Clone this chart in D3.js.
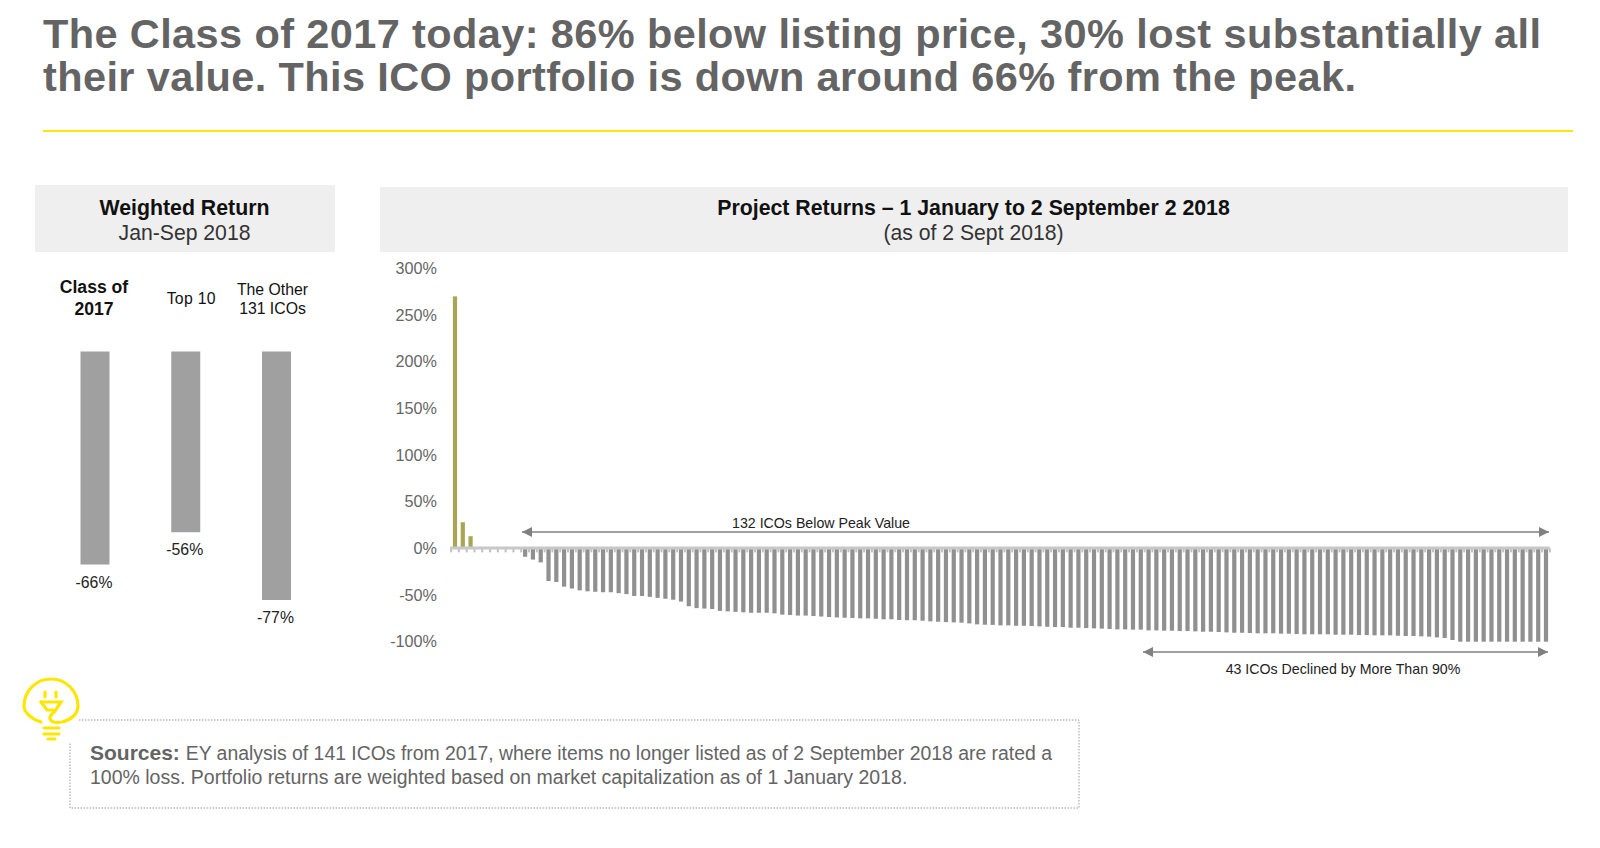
<!DOCTYPE html>
<html>
<head>
<meta charset="utf-8">
<script src="https://cdn.jsdelivr.net/npm/d3@7"></script>
<style>
  body { margin: 0; background: #fff; }
  text { font-family: "Liberation Sans", Arial, sans-serif; }
</style>
</head>
<body>
<div id="chart"></div>
<script>
// left panel
const weightedNames = ['Class of 2017', 'Top 10', 'The Other 131 ICOs'];
const weightedValues = [-66, -56, -77];

// right panel, one value per ICO, sorted
const positiveReturns = [270, 28, 13];
const flatReturns = [0, 0, 0, 0, 0, 0];
const belowPeakReturns = [
  -9, -12, -15, -35, -36, -41, -43, -45, -46, -46.5, -47, -47, -48, -49, -51, -51,
  -52, -53, -54, -55, -57, -62, -64, -64.5, -65, -67, -67.5, -68, -68.5, -69, -69, -69,
  -69.6, -71, -71.4, -72, -72, -72.5, -73, -73.6, -74, -74.3, -74.6, -75, -75, -75.4, -76, -76, -76.8,
  -77, -77, -77.5, -78.2, -78.6, -79, -79.3, -79.6, -80.4, -81.4, -81.8, -82, -82.5, -82.5, -82.9, -82.9,
  -83.2, -83.6, -84, -84.3, -84.3, -85, -85, -85.4, -85.7, -86, -86.4, -86.8, -86.8, -87.1, -87.1, -87.9, -87.9, -88.2,
  -88.2, -88.6, -88.6, -88.9, -89.3, -89.3, -89.6, -90, -90.4, -90.4, -90.7, -91, -91, -91, -91.4, -91.4,
  -91.8, -92.1, -92.1, -92.1, -92.1, -92.5, -92.5, -92.5, -92.9, -92.9, -93.2, -93.2, -93.2, -93.6, -93.9, -93.9,
  -94.3, -94.6, -95.4, -96, -98.2,
  -100, -100, -100, -100, -100, -100, -100, -100, -100, -100, -100, -100
];
const projectReturns = [...positiveReturns, ...flatReturns, ...belowPeakReturns];
const yTicks = [-100, -50, 0, 50, 100, 150, 200, 250, 300];

const width = 1600, height = 848;
const yellow = '#ffe600';
const svg = d3.select('#chart').append('svg')
  .attr('width', width)
  .attr('height', height)
  .style('display', 'block');

// title
svg.append('g').selectAll('text')
  .data([
    ['The Class of 2017 today: 86% below listing price, 30% lost substantially all', 48],
    ['their value. This ICO portfolio is down around 66% from the peak.', 91]
  ])
  .join('text')
  .attr('x', 43)
  .attr('y', d => d[1])
  .attr('font-size', 41.5)
  .attr('font-weight', 'bold')
  .attr('fill', '#646464')
  .attr('textLength', (d, i) => i === 0 ? 1498 : 1313)
  .attr('lengthAdjust', 'spacing')
  .text(d => d[0]);

svg.append('line')
  .attr('x1', 43).attr('x2', 1573)
  .attr('y1', 131).attr('y2', 131)
  .attr('stroke', yellow)
  .attr('stroke-width', 2);

// header boxes
function header(x0, x1, y0, y1, bold, normal, textX, boldY, normalY) {
  svg.append('rect')
    .attr('x', x0).attr('y', y0)
    .attr('width', x1 - x0).attr('height', y1 - y0)
    .attr('fill', '#efefef');
  svg.append('text')
    .attr('x', textX).attr('y', boldY)
    .attr('text-anchor', 'middle')
    .attr('font-size', 21.3)
    .attr('font-weight', 'bold')
    .attr('fill', '#111')
    .text(bold);
  svg.append('text')
    .attr('x', textX).attr('y', normalY)
    .attr('text-anchor', 'middle')
    .attr('font-size', 21.2)
    .attr('fill', '#333')
    .text(normal);
}
header(35, 335, 185, 252, 'Weighted Return', 'Jan-Sep 2018', 184.5, 215, 240);
header(380, 1568, 187, 252, 'Project Returns – 1 January to 2 September 2 2018', '(as of 2 Sept 2018)', 973.5, 215, 240);

// weighted return bars
const wx = d3.scalePoint()
  .domain(weightedNames)
  .range([95, 276.5]);
const wy = d3.scaleLinear()
  .domain([0, -77])
  .range([351.5, 600]);

svg.append('g').selectAll('rect')
  .data(weightedValues)
  .join('rect')
  .attr('x', (d, i) => wx(weightedNames[i]) - 14.5)
  .attr('y', wy(0))
  .attr('width', 29)
  .attr('height', d => wy(d) - wy(0))
  .attr('fill', '#a0a0a0');

svg.append('g').selectAll('text')
  .data(weightedValues)
  .join('text')
  .attr('x', (d, i) => wx(weightedNames[i]) - 1)
  .attr('y', d => wy(d) + 23)
  .attr('text-anchor', 'middle')
  .attr('font-size', 15.8)
  .attr('fill', '#222')
  .text(d => d + '%');

const nameLines = [['Class of', '2017'], ['Top 10'], ['The Other', '131 ICOs']];
const nameOffsets = [-1, 5.5, -4];
nameLines.forEach((lines, i) => {
  svg.append('g').selectAll('text')
    .data(lines)
    .join('text')
    .attr('x', wx(weightedNames[i]) + nameOffsets[i])
    .attr('y', (d, j) => (lines.length === 1 ? 304 : (i === 0 ? 293 : 295)) + j * (i === 0 ? 22 : 19))
    .attr('text-anchor', 'middle')
    .attr('font-size', i === 0 ? 17.6 : 15.8)
    .attr('font-weight', i === 0 ? 'bold' : 'normal')
    .attr('letter-spacing', i === 1 ? 0.3 : 0)
    .attr('fill', '#111')
    .text(d => d);
});

// project returns
const x = d3.scaleBand()
  .domain(d3.range(projectReturns.length))
  .range([451.1, 1549.9])
  .paddingInner(0.46)
  .paddingOuter(0.23);
const y = d3.scaleLinear()
  .domain([-100, 300])
  .range([641.7, 268.4]);

const yAxis = d3.axisLeft(y)
  .tickValues(yTicks)
  .tickSize(0)
  .tickPadding(0)
  .tickFormat(d => d + '%');
const yG = svg.append('g')
  .attr('transform', 'translate(437,0)')
  .call(yAxis);
yG.select('.domain').remove();
yG.selectAll('text')
  .attr('font-size', 16.2)
  .attr('fill', '#666')
  .style('font-family', '"Liberation Sans", Arial, sans-serif');

svg.append('g').selectAll('rect')
  .data(projectReturns)
  .join('rect')
  .attr('x', (d, i) => x(i))
  .attr('y', d => y(Math.max(d, 0)))
  .attr('width', x.bandwidth())
  .attr('height', d => Math.abs(y(d) - y(0)))
  .attr('fill', d => d > 0 ? '#a8a655' : '#909090');

// zero line with ticks between the bars
svg.append('g').selectAll('line')
  .data(d3.range(projectReturns.length + 1))
  .join('line')
  .attr('x1', i => x.range()[0] + i * x.step())
  .attr('x2', i => x.range()[0] + i * x.step())
  .attr('y1', y(0))
  .attr('y2', y(0) + 4)
  .attr('stroke', '#c0c0c0')
  .attr('stroke-width', 2);
svg.append('line')
  .attr('x1', x.range()[0] - 1).attr('x2', x.range()[1])
  .attr('y1', y(0) - 0.5).attr('y2', y(0) - 0.5)
  .attr('stroke', '#c8c8c8')
  .attr('stroke-width', 3);

// span arrows
const defs = svg.append('defs');
defs.append('marker')
  .attr('id', 'arrow')
  .attr('viewBox', '0 0 10 10')
  .attr('refX', 10).attr('refY', 5)
  .attr('markerUnits', 'userSpaceOnUse')
  .attr('markerWidth', 11).attr('markerHeight', 10)
  .attr('orient', 'auto-start-reverse')
  .append('path')
  .attr('d', 'M0,0L10,5L0,10Z')
  .attr('fill', '#808080');

function spanArrow(x0, x1, yPos, label, labelX, labelY) {
  svg.append('line')
    .attr('x1', x0).attr('x2', x1)
    .attr('y1', yPos).attr('y2', yPos)
    .attr('stroke', '#808080')
    .attr('stroke-width', 1.5)
    .attr('marker-start', 'url(#arrow)')
    .attr('marker-end', 'url(#arrow)');
  svg.append('text')
    .attr('x', labelX).attr('y', labelY)
    .attr('text-anchor', 'middle')
    .attr('font-size', 14.2)
    .attr('fill', '#222')
    .text(label);
}
spanArrow(522, 1549, 532, '132 ICOs Below Peak Value', 821, 528);
spanArrow(1143, 1548, 652, '43 ICOs Declined by More Than 90%', 1343, 674);

// sources box, dotted, with a gap for the bulb
svg.append('path')
  .attr('d', 'M79,720H1079V808H70V743')
  .attr('fill', 'none')
  .attr('stroke', '#999')
  .attr('stroke-width', 1)
  .attr('stroke-dasharray', '1.5 1.5');

const source = svg.append('text')
  .attr('x', 90).attr('y', 760)
  .attr('font-size', 19.4)
  .attr('fill', '#646464');
source.append('tspan').attr('font-weight', 'bold').attr('font-size', 21).text('Sources: ');
source.append('tspan').text('EY analysis of 141 ICOs from 2017, where items no longer listed as of 2 September 2018 are rated a');
svg.append('text')
  .attr('x', 90).attr('y', 784)
  .attr('font-size', 19.5)
  .attr('fill', '#646464')
  .text('100% loss.  Portfolio returns are weighted based on market capitalization as of 1 January 2018.');

// bulb icon
const bulb = svg.append('g')
  .attr('fill', 'none')
  .attr('stroke', yellow)
  .attr('stroke-width', 3.2)
  .attr('stroke-linecap', 'round');
bulb.append('path').attr('d', 'M41,702H61L55,711C52,714 49,716 50,719C51,722 56,723 62,722C71,720 78,714 78,706A27,27 0 0 0 24,706C24,712 31,719 41,722');
bulb.append('path').attr('d', 'M41,702L47,710H53');
bulb.append('path').attr('d', 'M45,692V697M56,692V697');
bulb.append('path').attr('d', 'M44,728H59M44,734H59M48,739H55');
</script>
</body>
</html>
